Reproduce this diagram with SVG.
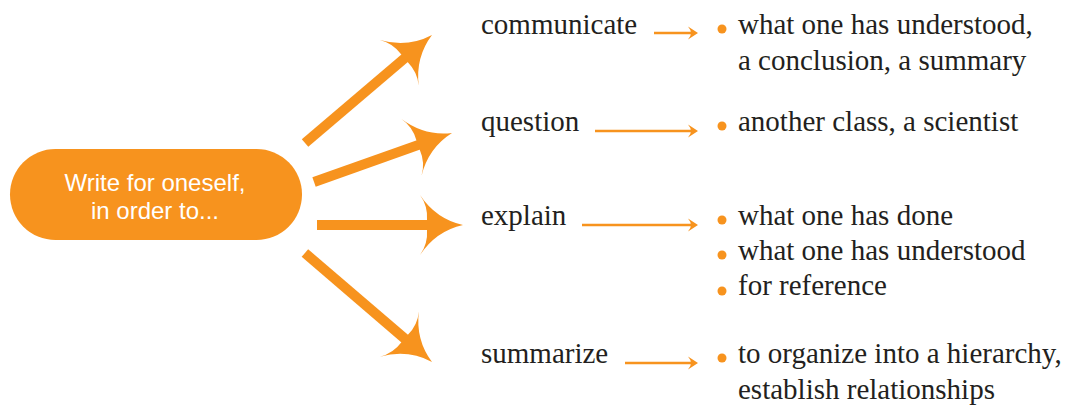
<svg xmlns="http://www.w3.org/2000/svg" xmlns:xlink="http://www.w3.org/1999/xlink" width="1069" height="405" viewBox="0 0 1069 405">
<style>
.lbl{font-family:"Liberation Serif","Times New Roman",serif;font-size:29px;fill:#231F20}
.pill{fill:#F7931E}
.pilltxt{font-family:"Liberation Sans",Arial,sans-serif;font-size:24px;fill:#FFFFFF;text-anchor:middle}
.shaft{stroke:#F7931E;stroke-width:10;fill:none}
.thin{stroke:#F7931E;stroke-width:2.5;fill:none}
.head{fill:#F7931E}
.dot{fill:#F7931E}
</style>
<defs>
<path id="bighead" d="M0,0 Q-27,-6 -43,-30 Q-35,-19 -36,-5 L-36,5 Q-35,19 -43,30 Q-27,6 0,0 Z"/>
<path id="smallhead" d="M0,0 L-10,-6.5 Q-7,-3 -7,0 Q-7,3 -10,6.5 Z"/>
</defs>
<rect width="1069" height="405" fill="#FFFFFF"/>
<g id="node-source">
<rect class="pill" x="10" y="149" width="292" height="91" rx="45.5" ry="45.5"/>
<text class="pilltxt" x="155" y="191">Write for oneself,</text>
<text class="pilltxt" x="155" y="219">in order to...</text>
</g>
<g id="connectors">
<g transform="translate(432,35) rotate(-40.4)">
<line class="shaft" x1="-166.7" y1="0" x2="-34" y2="0"/>
<use xlink:href="#bighead" class="head"/>
</g>
<g transform="translate(452,133) rotate(-19.55)">
<line class="shaft" x1="-146.4" y1="0" x2="-34" y2="0"/>
<use xlink:href="#bighead" class="head"/>
</g>
<g transform="translate(463,225)">
<line class="shaft" x1="-146" y1="0" x2="-34" y2="0"/>
<use xlink:href="#bighead" class="head"/>
</g>
<g transform="translate(432,362) rotate(40.6)">
<line class="shaft" x1="-167.4" y1="0" x2="-34" y2="0"/>
<use xlink:href="#bighead" class="head"/>
</g>
<line class="thin" x1="654" y1="33" x2="692" y2="33"/>
<use xlink:href="#smallhead" class="head" x="698" y="33"/>
<line class="thin" x1="595" y1="131" x2="692" y2="131"/>
<use xlink:href="#smallhead" class="head" x="698" y="131"/>
<line class="thin" x1="582" y1="225" x2="692" y2="225"/>
<use xlink:href="#smallhead" class="head" x="698" y="225"/>
<line class="thin" x1="625" y1="363" x2="692" y2="363"/>
<use xlink:href="#smallhead" class="head" x="698" y="363"/>
</g>
<g id="node-communicate">
<text class="lbl" x="481" y="34">communicate</text>
</g>
<g id="node-question">
<text class="lbl" x="481" y="131">question</text>
</g>
<g id="node-explain">
<text class="lbl" x="481" y="225">explain</text>
</g>
<g id="node-summarize">
<text class="lbl" x="481" y="363">summarize</text>
</g>
<g id="node-communicate-targets">
<circle class="dot" cx="722" cy="29" r="4.5"/>
<text class="lbl" x="738" y="34">what one has understood,</text>
<text class="lbl" x="738" y="70">a conclusion, a summary</text>
</g>
<g id="node-question-targets">
<circle class="dot" cx="722" cy="126" r="4.5"/>
<text class="lbl" x="738" y="131">another class, a scientist</text>
</g>
<g id="node-explain-targets">
<circle class="dot" cx="722" cy="220" r="4.5"/>
<text class="lbl" x="738" y="225">what one has done</text>
<circle class="dot" cx="722" cy="255" r="4.5"/>
<text class="lbl" x="738" y="260">what one has understood</text>
<circle class="dot" cx="722" cy="291" r="4.5"/>
<text class="lbl" x="738" y="295">for reference</text>
</g>
<g id="node-summarize-targets">
<circle class="dot" cx="722" cy="358" r="4.5"/>
<text class="lbl" x="738" y="363">to organize into a hierarchy,</text>
<text class="lbl" x="738" y="399">establish relationships</text>
</g>
</svg>
